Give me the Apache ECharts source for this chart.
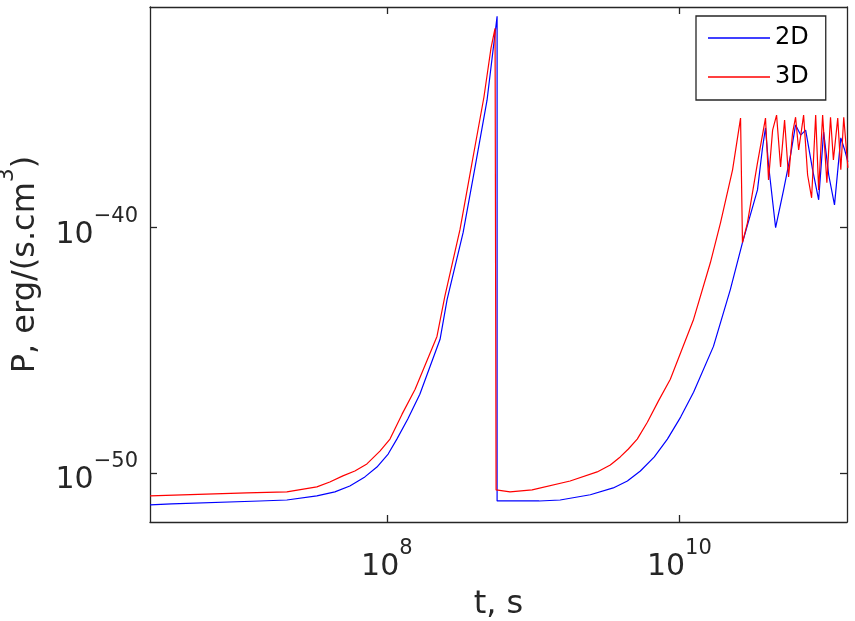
<!DOCTYPE html>
<html>
<head>
<meta charset="utf-8">
<script src="https://cdn.jsdelivr.net/npm/echarts@6/dist/echarts.min.js"></script>
<style>
  html, body { margin: 0; padding: 0; background: #fff; }
  #chart { width: 855px; height: 621px; }
</style>
</head>
<body>
<div id="chart"></div>
<script>
// 时间 t (s) 与功率 P (erg/(s.cm^3))
const t2D = [2.4e6, 3.37e6, 1.35e7, 2.07e7, 3.32e7, 4.41e7, 5.58e7, 7.07e7, 8.55e7, 1.02e8,
  1.17e8, 1.39e8, 1.68e8, 2.31e8, 2.58e8, 3.32e8, 4.01e8, 4.84e8, 5.32e8, 5.67e8,
  5.67e8, 1.10e9, 1.53e9, 2.46e9, 3.53e9, 4.41e9, 5.41e9, 6.74e9, 8.28e9, 1.02e10,
  1.25e10, 1.71e10, 2.23e10, 2.70e10, 3.42e10, 3.70e10, 3.88e10, 4.07e10, 4.55e10, 5.16e10,
  5.76e10, 6.23e10, 6.75e10, 7.30e10, 8.15e10, 8.96e10, 9.69e10, 1.05e11, 1.15e11, 1.27e11,
  1.35e11, 1.42e11];
const p2D = [5.0e-52, 5.5e-52, 7.2e-52, 7.9e-52, 1.17e-51, 1.7e-51, 2.95e-51, 6.9e-51, 1.74e-50, 5.9e-50,
  2.4e-49, 1.58e-48, 1.62e-47, 2.82e-45, 1.17e-43, 6.3e-41, 3.0e-38, 1.58e-35, 1.74e-33, 4.2e-32,
  7.2e-52, 7.2e-52, 7.9e-52, 1.29e-51, 2.45e-51, 4.7e-51, 1.2e-50, 4.5e-50, 2.4e-49, 1.9e-48,
  1.95e-47, 1.45e-45, 3.0e-43, 2.45e-41, 3.47e-39, 1.78e-37, 1.17e-36, 3.6e-38, 1.0e-40, 3.47e-39,
  9.3e-38, 1.55e-36, 6.0e-37, 9.5e-37, 2.3e-38, 1.38e-39, 7.9e-37, 1.41e-38, 8.5e-40, 4.6e-37,
  1.48e-37, 4.8e-38];

const t3D = [2.4e6, 1.10e7, 2.07e7, 3.32e7, 4.07e7, 5.00e7, 6.04e7, 7.30e7, 8.96e7, 1.05e8,
  1.27e8, 1.56e8, 2.20e8, 2.49e8, 3.16e8, 3.82e8, 4.61e8, 5.15e8, 5.49e8, 5.58e8,
  6.95e8, 9.84e8, 1.79e9, 2.74e9, 3.37e9, 3.94e9, 4.48e9, 5.15e9, 6.04e9, 7.18e9,
  8.67e9, 1.25e10, 1.63e10, 1.91e10, 2.31e10, 2.62e10, 2.70e10, 2.92e10, 3.42e10, 3.88e10,
  4.07e10, 4.34e10, 4.62e10, 4.92e10, 5.24e10, 5.58e10, 5.94e10, 6.23e10, 6.54e10, 7.07e10,
  7.53e10, 8.02e10, 8.55e10, 8.96e10, 9.54e10, 1.02e11, 1.08e11, 1.13e11, 1.21e11, 1.27e11,
  1.33e11, 1.42e11];
const p3D = [1.17e-51, 1.55e-51, 1.7e-51, 2.7e-51, 4.3e-51, 7.6e-51, 1.2e-50, 2.34e-50, 7.8e-50, 2.4e-49,
  2.5e-48, 2.57e-47, 3.7e-45, 1.58e-43, 8.3e-41, 4.4e-38, 2.14e-35, 2.1e-33, 1.35e-32, 2.04e-51,
  1.7e-51, 2.04e-51, 4.7e-51, 1.1e-50, 2.1e-50, 4.5e-50, 9.5e-50, 2.4e-49, 1.17e-48, 8.5e-48,
  6.6e-47, 1.82e-44, 3.8e-42, 1.58e-40, 2.3e-38, 2.95e-36, 2.45e-41, 1.58e-40, 4.4e-38, 2.95e-36,
  8.9e-39, 9.5e-37, 3.9e-36, 3.0e-38, 2.45e-36, 1.17e-38, 7.2e-37, 3.2e-36, 1.48e-37, 3.9e-36,
  1.41e-38, 1.66e-39, 3.9e-36, 3.47e-39, 3.9e-36, 6.8e-39, 3.2e-36, 5.75e-38, 2.95e-36, 2.3e-38,
  3.2e-36, 2.75e-38];

const xTicks = [1e8, 1e10];
const yTickExp = [-50, -40];

const chart = echarts.init(document.getElementById('chart'));

const axisColor = '#262626';
const font = 'DejaVu Sans';

function supText(e) {
  return '{b|10}{s|' + String(e).replace('-', '\u2212') + '}';
}
const richSup = {
  b: { fontFamily: font, fontSize: 30, color: axisColor, lineHeight: 44, verticalAlign: 'bottom' },
  s: { fontFamily: font, fontSize: 21, color: axisColor, lineHeight: 22, verticalAlign: 'top' }
};

function baseAxis(pos, min, max) {
  return {
    type: 'log',
    logBase: 10,
    position: pos,
    min: min,
    max: max,
    axisLine: { show: true, onZero: false, lineStyle: { color: axisColor, width: 1.3 } },
    axisTick: { show: true, inside: true, length: 7, lineStyle: { color: axisColor, width: 1.3 } },
    minorTick: { show: false },
    splitLine: { show: false },
    axisLabel: { show: false }
  };
}

const xMin = 2.4e6, xMax = 1.4e11;
const yMin = 1e-52, yMax = 1e-31;

// x 轴：底部带标签，顶部只画刻度
const xBottom = baseAxis('bottom', xMin, xMax);
xBottom.axisTick.customValues = xTicks;
xBottom.axisLabel = {
  show: true,
  customValues: xTicks,
  margin: 16,
  formatter: v => supText(Math.round(Math.log10(v))),
  rich: richSup
};
xBottom.name = 't, s';
xBottom.nameLocation = 'middle';
xBottom.nameGap = 67;
xBottom.nameTextStyle = { fontFamily: font, fontSize: 32, color: axisColor };
const xTop = baseAxis('top', xMin, xMax);
xTop.axisTick.customValues = xTicks;

// y 轴：自动刻度（每 10 个数量级），只显示 10^-50、10^-40
function yFormatter(v) {
  const e = Math.log10(v);
  const r = Math.round(e);
  if (Math.abs(e - r) > 1e-6 || yTickExp.indexOf(r) < 0) return '';
  return supText(r);
}
const yLeft = baseAxis('left', yMin, yMax);
yLeft.axisLabel = {
  show: true,
  margin: 12,
  showMinLabel: false,
  showMaxLabel: false,
  formatter: yFormatter,
  rich: richSup
};
yLeft.name = '{n|P, erg/(s.cm}{s|3}{n|)}';
yLeft.nameLocation = 'middle';
yLeft.nameGap = 108;
yLeft.nameRotate = 90;
yLeft.nameTextStyle = {
  rich: {
    n: { fontFamily: font, fontSize: 32, color: axisColor, lineHeight: 46, verticalAlign: 'bottom' },
    s: { fontFamily: font, fontSize: 22, color: axisColor, lineHeight: 22, verticalAlign: 'top' }
  }
};
const yRight = baseAxis('right', yMin, yMax);

const option = {
  animation: false,
  backgroundColor: '#fff',
  grid: { left: 150, right: 8, top: 7, bottom: 99, containLabel: false, outerBoundsMode: 'none' },
  legend: {
    orient: 'vertical',
    left: 696,
    top: 16,
    padding: [8, 17, 9, 12],
    itemWidth: 62,
    itemHeight: 1.5,
    itemGap: 11,
    icon: 'rect',
    itemStyle: { borderWidth: 0 },
    borderColor: axisColor,
    borderWidth: 1.3,
    borderRadius: 0,
    backgroundColor: '#fff',
    textStyle: { fontFamily: font, fontSize: 24, color: '#000', lineHeight: 28 },
    data: ['2D', '3D']
  },
  xAxis: [xBottom, xTop],
  yAxis: [yLeft, yRight],
  series: [
    {
      name: '2D',
      type: 'line',
      symbol: 'none',
      lineStyle: { color: '#0000ff', width: 1.2 },
      itemStyle: { color: '#0000ff' },
      data: t2D.map((t, i) => [t, p2D[i]])
    },
    {
      name: '3D',
      type: 'line',
      symbol: 'none',
      lineStyle: { color: '#ff0000', width: 1.2 },
      itemStyle: { color: '#ff0000' },
      data: t3D.map((t, i) => [t, p3D[i]])
    }
  ]
};
chart.setOption(option);
</script>
</body>
</html>
